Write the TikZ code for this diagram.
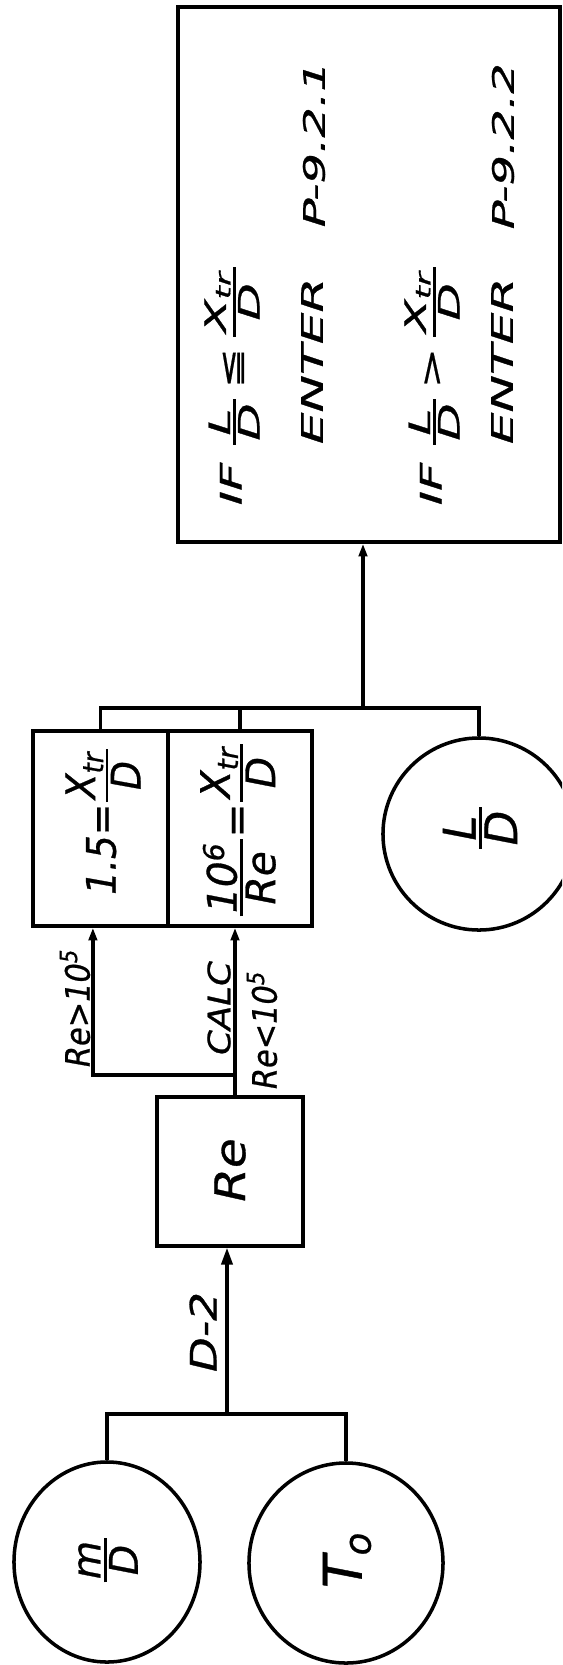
\documentclass[tikz,border=0pt]{standalone}
\usepackage{amsmath,amssymb}
\usepackage{fontspec}
\setmainfont{DejaVu Sans}[ItalicFeatures={FakeBold=0.7}]
\usetikzlibrary{arrows.meta,shapes.geometric}

\newcommand{\ratio}[2]{$\genfrac{}{}{1.8pt}{}{\mbox{\kern0.08em#1\kern0.08em}}{\mbox{\kern0.08em#2\kern0.08em}}$}
\newcommand{\handsize}[1]{\fontsize{#1}{#1}\selectfont}

\begin{document}
\begin{tikzpicture}[x=0.025cm,y=-0.025cm,line width=2.3pt,
  block/.style={draw,line width=2.5pt,inner sep=0pt},
  bubble/.style={draw,ellipse,line width=2.5pt,inner sep=0pt},
  lettering/.style={rotate=90,inner sep=0pt,font={\handsize{#1}\itshape}},
  arrow-solid/.style={-{Triangle[length=9pt,width=6pt]}},
  arrow-open/.style={-{Triangle[open,length=9pt,width=6pt]}}]
\path[use as bounding box,fill=white] (0,0) rectangle (562,1665);
\clip (0,0) rectangle (562,1665);
% boxes and bubbles
\node[block,minimum width=9.55cm,minimum height=13.375cm] (result-box) at (369,274.5) {};
\node[block,minimum width=3.375cm,minimum height=4.875cm] (eq-left) at (100.5,828.5) {};
\node[block,minimum width=3.6cm,minimum height=4.875cm] (eq-right) at (240,828.5) {};
\node[bubble,minimum width=4.8cm,minimum height=4.8cm] (ld-circle) at (479,834) {};
\node[block,minimum width=3.65cm,minimum height=3.725cm] (re-box) at (230,1171.5) {};
\node[bubble,minimum width=4.65cm,minimum height=5cm] (md-circle) at (107,1562) {};
\node[bubble,minimum width=4.85cm,minimum height=5cm] (t0-circle) at (346,1563) {};
% texts
\node[lettering=21,anchor=west,xscale=1.65] (if-line-1) at (232,508) {IF~\ratio{L}{D}\,≦\,\ratio{X\textsubscript{tr}}{D}};
\node[lettering=21,anchor=west,xscale=1.7] (enter-1) at (312,447) {ENTER};
\node[lettering=21,anchor=west,xscale=1.63] (target-1) at (314,230) {P-9.2.1};
\node[lettering=21,anchor=west,xscale=1.65] (if-line-2) at (432,508) {IF~\ratio{L}{D}\,>\,\ratio{X\textsubscript{tr}}{D}};
\node[lettering=21,anchor=west,xscale=1.7] (enter-2) at (502,447) {ENTER};
\node[lettering=21,anchor=west,xscale=1.63] (target-2) at (503,232) {P-9.2.2};
\node[lettering=29,xscale=0.92] (eq-left-text) at (103,821) {1.5=\ratio{X\textsubscript{tr}}{D}};
\node[lettering=29] (eq-right-text) at (238,830) {\ratio{10\textsuperscript{6}}{Re}=\ratio{X\textsubscript{tr}}{D}};
\node[lettering=32] (ld-text) at (480,828) {\ratio{L}{D}};
\node[lettering=30,xscale=1.15] (re-text) at (230,1170) {Re};
\node[lettering=28] (md-text) at (108,1560) {\ratio{m}{D}};
\node[lettering=38] (t0-text) at (347,1560) {T\textsubscript{o}};
\node[lettering=24,xscale=0.9] (re-high) at (75,1008) {Re>10\textsuperscript{5}};
\node[lettering=22,xscale=1.15] (calc-label) at (219,1008) {CALC};
\node[lettering=24,xscale=0.9] (re-low) at (262,1030) {Re<10\textsuperscript{5}};
\node[lettering=26,xscale=1.24] (d-two) at (203,1332) {D-2};
% connectors
\coordinate (top-join) at (363,708);
\coordinate (calc-split) at (235,1075);
\coordinate (base-join) at (227,1414);
\draw (eq-left.north) |- (top-join) -| (ld-circle.north);
\draw (eq-right.north) -- (eq-right.north |- top-join);
\draw[arrow-open] (top-join) -- (top-join |- result-box.south);
\draw[arrow-open] (re-box.north -| calc-split) -- (calc-split |- eq-right.south);
\draw[arrow-solid] (calc-split) -| ([xshift=-0.19cm]eq-left.south);
\draw (md-circle.north) |- (base-join) -| (t0-circle.north);
\draw[-{Triangle[length=12pt,width=8pt]}] (base-join) -- (base-join |- re-box.south);
\end{tikzpicture}
\end{document}
